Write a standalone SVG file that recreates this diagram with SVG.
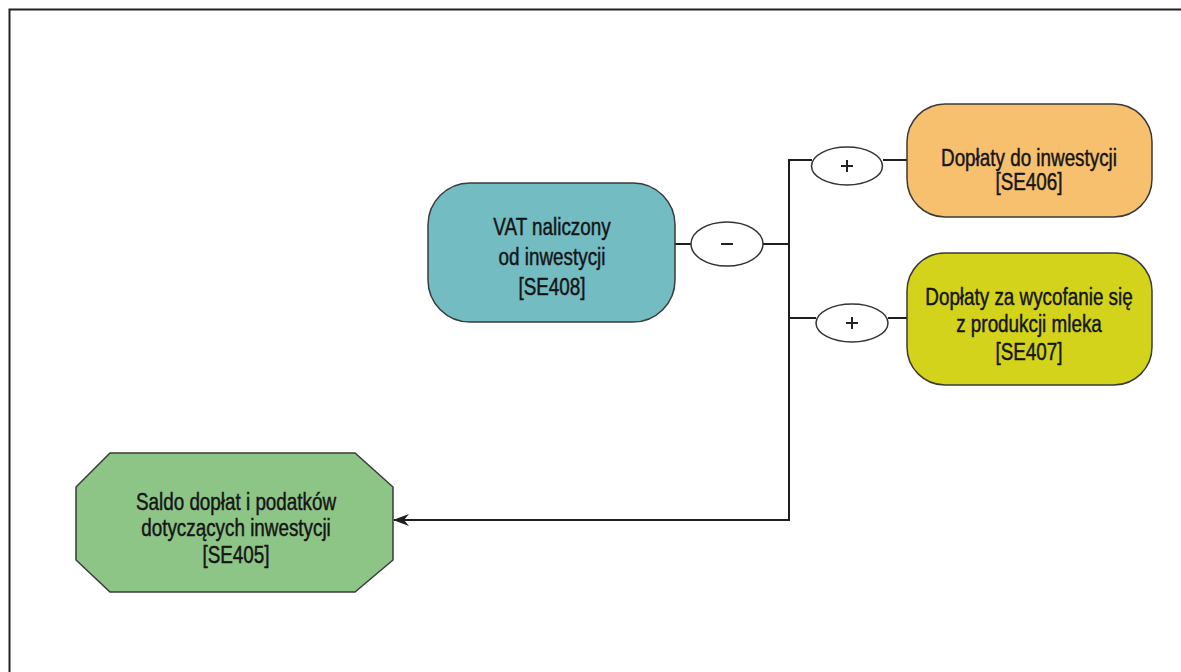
<svg xmlns="http://www.w3.org/2000/svg" width="1181" height="672" viewBox="0 0 1181 672">
<style>
.node{stroke:#3a3a3a;stroke-width:1.5}
.op{fill:#fff;stroke:#333;stroke-width:1.5}
.wire{fill:none;stroke:#1e1e1e;stroke-width:2}
.t{font-family:"Liberation Sans",Arial,sans-serif;font-size:23px;fill:#151515;stroke:#151515;stroke-width:0.45;text-anchor:middle}
.s{stroke:#222;stroke-width:2}
</style>
<defs>
<marker id="arr" viewBox="0 0 16 12" refX="15" refY="6" markerWidth="16" markerHeight="12" markerUnits="userSpaceOnUse" orient="auto">
<path d="M0,0 L16,6 L0,12 L5,6 Z" fill="#1e1e1e"/>
</marker>
</defs>
<rect x="0" y="0" width="1181" height="672" fill="#fff"/>
<rect x="9.5" y="9.5" width="1200" height="700" fill="none" stroke="#222" stroke-width="2"/>
<g id="connectors">
<line class="wire" x1="789" y1="159" x2="789" y2="521"/>
<line class="wire" x1="675" y1="244" x2="691" y2="244"/>
<line class="wire" x1="763" y1="244" x2="789" y2="244"/>
<line class="wire" x1="789" y1="160" x2="812" y2="160"/>
<line class="wire" x1="883" y1="160" x2="907" y2="160"/>
<line class="wire" x1="789" y1="318" x2="816" y2="318"/>
<line class="wire" x1="888" y1="318" x2="907" y2="318"/>
<line class="wire" x1="790" y1="520" x2="394" y2="520" marker-end="url(#arr)"/>
<g id="op-minus">
<ellipse class="op" cx="727" cy="244" rx="36" ry="22"/>
<line class="s" x1="721" y1="244" x2="733" y2="244"/>
</g>
<g id="op-plus1">
<ellipse class="op" cx="847" cy="166" rx="35.5" ry="19"/>
<path class="s" d="M841,166 H853 M847,160 V172"/>
</g>
<g id="op-plus2">
<ellipse class="op" cx="852" cy="323" rx="36" ry="19"/>
<path class="s" d="M846,323 H858 M852,317 V329"/>
</g>
</g>
<g id="SE408">
<rect class="node" x="428" y="183" width="247" height="139" rx="42" ry="42" fill="#72bcc2"/>
<text class="t" transform="translate(552 235) scale(0.82 1)">VAT naliczony</text>
<text class="t" transform="translate(552 265) scale(0.82 1)">od inwestycji</text>
<text class="t" transform="translate(552 295) scale(0.82 1)">[SE408]</text>
</g>
<g id="SE406">
<rect class="node" x="907" y="104" width="245" height="113" rx="38" ry="38" fill="#f6c06e"/>
<text class="t" transform="translate(1029 166) scale(0.82 1)">Dopłaty do inwestycji</text>
<text class="t" transform="translate(1029 190) scale(0.82 1)">[SE406]</text>
</g>
<g id="SE407">
<rect class="node" x="907" y="253" width="245" height="132" rx="38" ry="38" fill="#d3d31c"/>
<text class="t" transform="translate(1029 305) scale(0.82 1)">Dopłaty za wycofanie się</text>
<text class="t" transform="translate(1029 332) scale(0.82 1)">z produkcji mleka</text>
<text class="t" transform="translate(1029 360) scale(0.82 1)">[SE407]</text>
</g>
<g id="SE405">
<polygon class="node" points="110,453 355,453 393,487 393,560 355,592 110,592 76,560 76,487" fill="#8dc587"/>
<text class="t" transform="translate(236 510) scale(0.82 1)">Saldo dopłat i podatków</text>
<text class="t" transform="translate(236 536) scale(0.82 1)">dotyczących inwestycji</text>
<text class="t" transform="translate(236 563) scale(0.82 1)">[SE405]</text>
</g>
</svg>
